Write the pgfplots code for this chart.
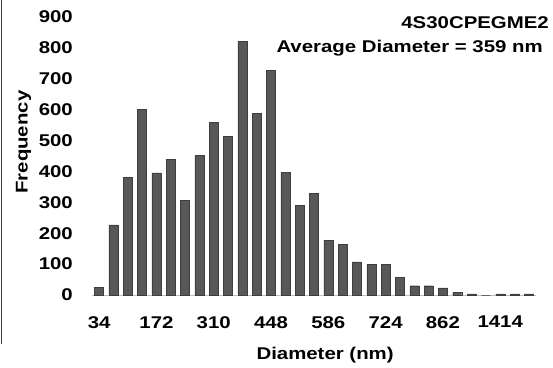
\documentclass[border=0pt]{standalone}
\usepackage{pgfplots}
\pgfplotsset{compat=1.18}
\usepackage{fontspec}
\setmainfont{Liberation Sans}[FakeStretch=1.2]
\definecolor{barfill}{RGB}{88,88,88}
\definecolor{baredge}{RGB}{62,62,62}
\newcommand{\cf}{\fontsize{17bp}{20bp}\selectfont\bfseries}
\begin{document}
\begin{tikzpicture}[x=1bp,y=1bp]
\path[use as bounding box] (0,0) rectangle (553,367);
\begin{axis}[
  at={(92bp,72bp)}, anchor=south west,
  width=444bp, height=278bp, scale only axis,
  xmin=-0.5, xmax=30.5, ymin=0, ymax=900,
  ybar, bar width=9bp,
  axis lines*=left,
  y axis line style={draw=none},
  x axis line style={draw=black!25, line width=0.6bp},
  ytick={0,100,...,900},
  xtick={0,4,...,28},
  xticklabels={34,172,310,448,586,724,862,1414},
  major tick length=0pt,
  /pgf/number format/assume math mode=true,
  tick label style={font=\cf},
  yticklabel style={inner sep=0pt, xshift=-19bp},
  xticklabel style={inner sep=0pt, anchor=north, yshift=-21bp},
  xlabel={Diameter (nm)}, ylabel={Frequency},
  label style={font=\cf, inner sep=0pt},
  xlabel style={at={(axis description cs:0.525,0)}, anchor=north, yshift=-52bp},
  ylabel style={at={(axis description cs:0,0.55)}, anchor=center, yshift=68.5bp},
  clip=false,
]
\addplot[fill=barfill, draw=baredge, line width=0.4bp] coordinates {
(0,25) (1,227) (2,380) (3,602) (4,395) (5,440) (6,307) (7,451) (8,560) (9,514)
(10,822) (11,589) (12,728) (13,398) (14,291) (15,330) (16,178) (17,165) (18,107) (19,100)
(20,100) (21,58) (22,30) (23,30) (24,23) (25,8) (26,4) (27,0) (28,4) (29,4) (30,4)
};
\end{axis}
\node[anchor=base east, font=\cf, inner sep=0pt] at (549,339) {4S30CPEGME2};
\node[anchor=base east, font=\cf, inner sep=0pt] at (543,315) {Average Diameter = 359 nm};
\draw[line width=1.5bp, black!75] (1.5,367) -- (1.5,23);
\end{tikzpicture}
\end{document}
